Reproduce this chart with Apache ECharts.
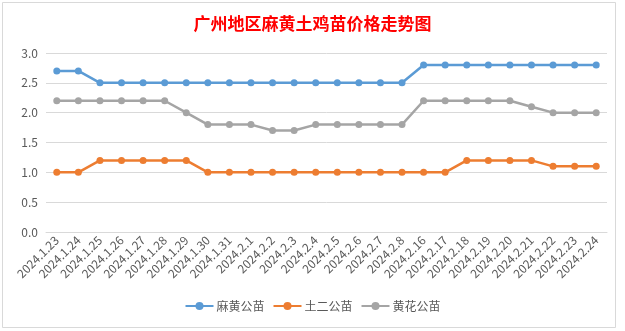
<!DOCTYPE html>
<html>
<head>
<meta charset="utf-8">
<script src="https://cdn.jsdelivr.net/npm/echarts@6/dist/echarts.min.js"></script>
<style>
  html, body { margin: 0; padding: 0; background: #ffffff; }
  #chart { width: 625px; height: 331px; }
</style>
</head>
<body>
<div id="chart"></div>
<script>
// Dates of the price quotes
const categories = [
  '2024.1.23', '2024.1.24', '2024.1.25', '2024.1.26', '2024.1.27', '2024.1.28',
  '2024.1.29', '2024.1.30', '2024.1.31', '2024.2.1', '2024.2.2', '2024.2.3',
  '2024.2.4', '2024.2.5', '2024.2.6', '2024.2.7', '2024.2.8', '2024.2.16',
  '2024.2.17', '2024.2.18', '2024.2.19', '2024.2.20', '2024.2.21', '2024.2.22',
  '2024.2.23', '2024.2.24'
];

// Chick prices per breed (yuan per chick)
const mahuangPrices = [
  2.7, 2.7, 2.5, 2.5, 2.5, 2.5, 2.5, 2.5, 2.5, 2.5, 2.5, 2.5, 2.5,
  2.5, 2.5, 2.5, 2.5, 2.8, 2.8, 2.8, 2.8, 2.8, 2.8, 2.8, 2.8, 2.8
];
const tuerPrices = [
  1.0, 1.0, 1.2, 1.2, 1.2, 1.2, 1.2, 1.0, 1.0, 1.0, 1.0, 1.0, 1.0,
  1.0, 1.0, 1.0, 1.0, 1.0, 1.0, 1.2, 1.2, 1.2, 1.2, 1.1, 1.1, 1.1
];
const huanghuaPrices = [
  2.2, 2.2, 2.2, 2.2, 2.2, 2.2, 2.0, 1.8, 1.8, 1.8, 1.7, 1.7, 1.8,
  1.8, 1.8, 1.8, 1.8, 2.2, 2.2, 2.2, 2.2, 2.2, 2.1, 2.0, 2.0, 2.0
];

const seriesNames = ['麻黄公苗', '土二公苗', '黄花公苗'];
const seriesColors = ['#5B9BD5', '#ED7D31', '#A5A5A5'];
const seriesData = [mahuangPrices, tuerPrices, huanghuaPrices];

const chart = echarts.init(document.getElementById('chart'), null, { renderer: 'canvas' });

const textFont = 'Noto Sans CJK SC, Noto Sans, sans-serif';

chart.setOption({
  backgroundColor: '#ffffff',
  animation: false,
  title: {
    text: '广州地区麻黄土鸡苗价格走势图',
    left: 'center',
    top: 10,
    textStyle: {
      color: '#FF0000',
      fontSize: 17,
      fontWeight: 'bold',
      fontFamily: 'Noto Sans CJK SC, serif'
    }
  },
  graphic: [{
    type: 'rect',
    shape: { x: 2.5, y: 2.5, width: 613, height: 325 },
    style: { fill: 'none', stroke: '#d9d9d9', lineWidth: 1 },
    silent: true
  }],
  legend: {
    bottom: 14,
    left: 'center',
    itemWidth: 28,
    itemHeight: 10,
    itemGap: 8,
    textStyle: { color: '#595959', fontSize: 12, fontFamily: textFont, padding: [0, 0, 0, -2] },
    data: seriesNames
  },
  grid: {
    left: 46,
    right: 18,
    top: 53,
    bottom: 99
  },
  xAxis: {
    type: 'category',
    data: categories,
    boundaryGap: true,
    axisLine: { show: true, lineStyle: { color: '#d9d9d9', width: 1 } },
    axisTick: { show: false },
    axisLabel: {
      interval: 0,
      rotate: 45,
      margin: 6,
      color: '#595959',
      fontSize: 12,
      fontFamily: textFont
    }
  },
  yAxis: {
    type: 'value',
    min: 0,
    max: 3,
    interval: 0.5,
    axisLine: { show: false },
    axisTick: { show: false },
    axisLabel: {
      margin: 8,
      color: '#595959',
      fontSize: 12,
      fontFamily: textFont,
      formatter: v => v.toFixed(1)
    },
    splitLine: { lineStyle: { color: '#d9d9d9', width: 1 } }
  },
  series: seriesNames.map((name, i) => ({
    name: name,
    type: 'line',
    data: seriesData[i],
    symbol: 'circle',
    symbolSize: 7,
    showSymbol: true,
    lineStyle: { color: seriesColors[i], width: 2.5 },
    itemStyle: { color: seriesColors[i] }
  }))
});
</script>
</body>
</html>
